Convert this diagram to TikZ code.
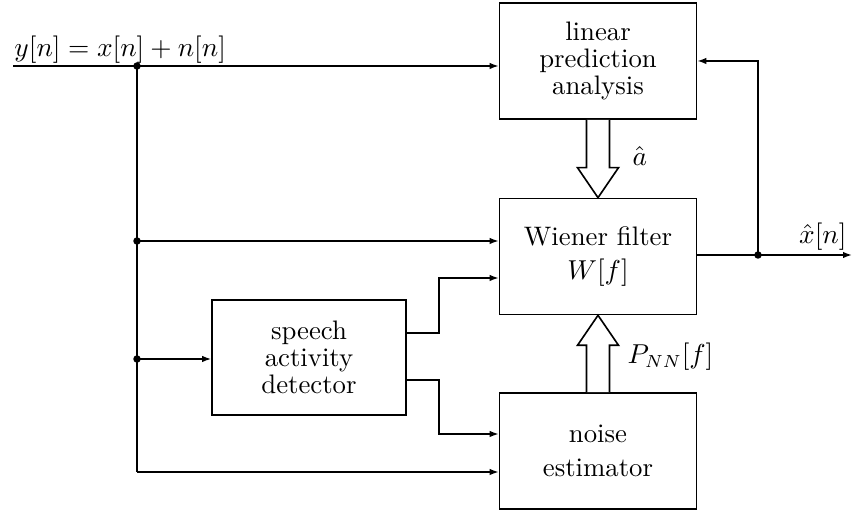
\documentclass[tikz,border=0pt]{standalone}
\usetikzlibrary{arrows.meta,calc}
\begin{document}
\begin{tikzpicture}[x=0.4pt,y=-0.4pt,
  font=\fontsize{10.7}{13.4}\selectfont,
  block/.style={draw, line width=0.65pt, align=center, minimum width=78.8pt,
    minimum height=46.4pt, inner sep=0pt},
  tight/.style={font=\fontsize{10.7}{10.8}\selectfont},
  sig/.style={draw, line width=0.65pt, -{Latex[length=3.6pt,width=2.6pt]}},
  wire/.style={draw, line width=0.65pt},
  junction/.style={circle, fill, inner sep=0pt, minimum size=3pt},
  fat/.style={draw, line width=0.65pt, fill=white, line join=miter}]

\useasboundingbox (0,0) rectangle (852,510);

% processing blocks
\node[block, tight] (lpa) at (598,61)    {linear\\prediction\\analysis};
\node[block]        (wf)  at (598,256.5) {Wiener filter\\$W[f]$};
\node[block, tight, minimum width=77.6pt, minimum height=46pt]
                    (sad) at (309,357.5) {speech\\activity\\detector};
\node[block]        (ne)  at (598,451)   {noise\\estimator};

% input signal and its distribution line
\coordinate (in)  at (13,66);
\node[anchor=base west, inner sep=0pt] (ylab) at (14,57) {$y[n] = x[n] + n[n]$};
\coordinate (tap) at (137,66);
\coordinate (tapw) at (137,241);
\coordinate (taps) at (137,359);
\coordinate (tapn) at (137,472);

\path[sig] (in) -- (in -| lpa.west);
\path[wire] (tap) -- (tapn);
\path[sig] (tapw) -- (tapw -| wf.west);
\path[sig] (taps) -- (taps -| sad.west);
\path[sig] (tapn) -- (tapn -| ne.west);
\node[junction] (j1) at (tap) {};
\node[junction] (j2) at (tapw) {};
\node[junction] (j3) at (taps) {};

% detector outputs
\coordinate (sa) at (sad.east |- 0,333);
\coordinate (sb) at (sad.east |- 0,380);
\path[sig] (sa) -| (439,278) -- (wf.west |- 0,278);
\path[sig] (sb) -| (439,434) -- (ne.west |- 0,434);

% output and feedback
\coordinate (out) at (852,255);
\coordinate (fb)  at (758,255);
\path[sig] (wf.east |- out) -- (out);
\node[junction] (j4) at (fb) {};
\path[sig] (fb) -- (758,61) -- (lpa.east);
\node[anchor=south east, inner sep=0pt] (xlab) at (847,251) {$\hat{x}[n]$};

% wide arrows: coefficients and noise spectrum
\path[fat] ($(lpa.south)+(-11.5,0)$) -- ($(wf.north)+(-11.5,-30)$)
  -- ($(wf.north)+(-20.5,-30)$) -- (wf.north) -- ($(wf.north)+(20.5,-30)$)
  -- ($(wf.north)+(11.5,-30)$) -- ($(lpa.south)+(11.5,0)$);
\node[anchor=west, inner sep=0pt] (alab) at (632,156) {$\hat{a}$};

\path[fat] ($(ne.north)+(-11.5,0)$) -- ($(wf.south)+(-11.5,30)$)
  -- ($(wf.south)+(-20.5,30)$) -- (wf.south) -- ($(wf.south)+(20.5,30)$)
  -- ($(wf.south)+(11.5,30)$) -- ($(ne.north)+(11.5,0)$);
\node[anchor=west, inner sep=0pt] (plab) at (627,357) {$P_{NN}[f]$};
\end{tikzpicture}
\end{document}
